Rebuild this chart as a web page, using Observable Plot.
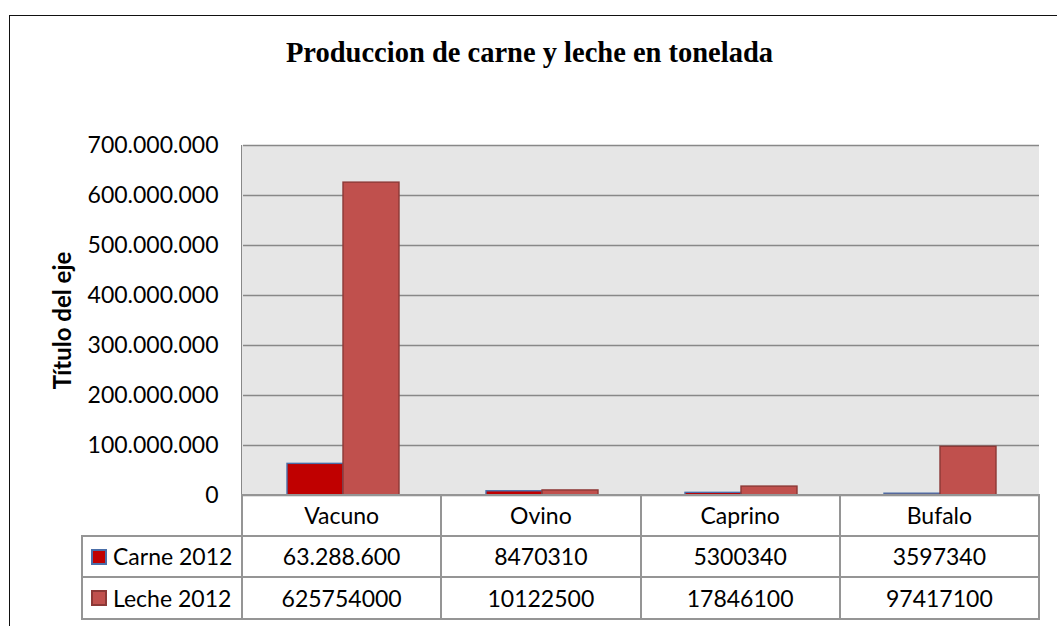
<!DOCTYPE html>
<html>
<head>
<meta charset="utf-8">
<script src="https://cdn.jsdelivr.net/npm/d3@7"></script>
<script src="https://cdn.jsdelivr.net/npm/@observablehq/plot@0.6"></script>
<style>
  body { margin: 0; background: #fff; }
  #wrap { position: relative; width: 1057px; height: 626px; overflow: hidden; font-family: Lato, "Open Sans", sans-serif; color: #000; }
  #bg { position: absolute; background: #e6e6e6; border-left: 1.5px solid #888; box-sizing: border-box; }
  #chart { position: absolute; left: 0; top: 0; }
  #title { position: absolute; left: 0; width: 1059px; top: 39px; text-align: center; font: bold 28.5px/28px "Liberation Serif", "Times New Roman", serif; }
  #border { position: absolute; left: 9px; top: 15px; width: 1200px; height: 800px; border: 1.5px solid #111; box-sizing: border-box; pointer-events: none; }
  .hl, .vl { position: absolute; background: #959595; }
  .cell { position: absolute; display: flex; align-items: center; justify-content: center; font-size: 23px; line-height: 1; }
  .leg { justify-content: flex-start; }
  .sw { display: inline-block; width: 16px; height: 16px; box-sizing: border-box; border: 2px solid; margin-left: 9px; margin-right: 6px; }
</style>
</head>
<body>
<div id="wrap">
  <div id="bg"></div>
  <div id="chart"></div>
  <div id="title"></div>
  <div id="table"></div>
  <div id="border"></div>
</div>
<script>
// ---- data ----
const title = "Produccion de carne y leche en tonelada";
const yTitle = "Título del eje";
const categories = ["Vacuno", "Ovino", "Caprino", "Bufalo"];
const series = ["Carne 2012", "Leche 2012"];
const carne = [63288600, 8470310, 5300340, 3597340];
const leche = [625754000, 10122500, 17846100, 97417100];
const carneLabels = ["63.288.600", "8470310", "5300340", "3597340"];
const lecheLabels = ["625754000", "10122500", "17846100", "97417100"];
const yTicks = [0, 100000000, 200000000, 300000000, 400000000, 500000000, 600000000, 700000000];

const rows = categories.flatMap((c, i) => [
  {category: c, series: series[0], value: carne[i]},
  {category: c, series: series[1], value: leche[i]}
]);
const fmt = d => d3.format(",")(d).replace(/,/g, ".");

const W = 1057, mL = 242, mR = 18, mT = 145, H = 500, mB = 5;

// plot-area background (single piece, so facets show no seams)
Object.assign(document.getElementById("bg").style, {
  left: (mL - 0.75) + "px", top: mT + "px", width: (W - mL - mR + 0.75) + "px", height: (H - mT - mB) + "px"
});

const plot = Plot.plot({
  width: W, height: H,
  marginTop: mT, marginBottom: mB, marginLeft: mL, marginRight: mR,
  style: {background: "transparent", fontFamily: "Lato, sans-serif", fontSize: "23px", color: "#000", overflow: "visible"},
  fx: {domain: categories, padding: 0, axis: null},
  x: {domain: series, paddingInner: 0, paddingOuter: 0.75, axis: null},
  y: {domain: [0, 700000000], ticks: yTicks, tickFormat: fmt, tickSize: 0, tickPadding: 25, label: null},
  marks: [
    Plot.ruleY(yTicks, {stroke: "#888888", strokeWidth: 1.5}),
    Plot.barY(rows.filter(d => d.series === series[0]), {fx: "category", x: "series", y: "value", fill: "#c00000", stroke: "#4a6ea8", strokeWidth: 1.4}),
    Plot.barY(rows.filter(d => d.series === series[1]), {fx: "category", x: "series", y: "value", fill: "#c0504d", stroke: "#8c3836", strokeWidth: 1.4}),
    Plot.text([yTitle], {fx: () => categories[0], frameAnchor: "left", textAnchor: "middle", dx: -180, rotate: -90, fontWeight: "bold", fontSize: 24, fill: "#000"})
  ]
});
document.getElementById("chart").appendChild(plot);
document.getElementById("title").textContent = title;

// ---- data table under the chart (acts as x axis + legend) ----
const table = document.getElementById("table");
const colW = (W - mL - mR) / categories.length;
const colX = d3.range(categories.length + 1).map(i => mL + i * colW);
const legX = 82;
const rowY = [495, 536, 577, 619];
const lw = 2;
function add(cls, style) {
  const el = document.createElement("div");
  el.className = cls;
  Object.assign(el.style, style);
  table.appendChild(el);
  return el;
}
// horizontal lines
add("hl", {left: mL + "px", top: (rowY[0] - lw / 2) + "px", width: (colX[colX.length - 1] - mL) + "px", height: lw + "px"});
for (let r = 1; r < rowY.length; r++) {
  add("hl", {left: legX + "px", top: (rowY[r] - lw / 2) + "px", width: (colX[colX.length - 1] - legX + lw / 2) + "px", height: lw + "px"});
}
// vertical lines
add("vl", {left: (legX - lw / 2) + "px", top: (rowY[1] - lw / 2) + "px", width: lw + "px", height: (rowY[3] - rowY[1] + lw) + "px"});
colX.forEach(x => add("vl", {left: (x - lw / 2) + "px", top: (rowY[0] - lw / 2) + "px", width: lw + "px", height: (rowY[3] - rowY[0] + lw) + "px"}));
// header cells
categories.forEach((c, i) => {
  const el = add("cell", {left: colX[i] + "px", top: rowY[0] + "px", width: colW + "px", height: (rowY[1] - rowY[0]) + "px"});
  el.textContent = c;
});
// series rows
const swatch = [{fill: "#c00000", stroke: "#4a6ea8"}, {fill: "#c0504d", stroke: "#8c3836"}];
[carneLabels, lecheLabels].forEach((labels, r) => {
  const top = rowY[r + 1], h = rowY[r + 2] - rowY[r + 1];
  const leg = add("cell leg", {left: legX + "px", top: top + "px", width: (mL - legX) + "px", height: h + "px"});
  const sw = document.createElement("span");
  sw.className = "sw";
  sw.style.background = swatch[r].fill;
  sw.style.borderColor = swatch[r].stroke;
  leg.appendChild(sw);
  leg.appendChild(document.createTextNode(series[r]));
  labels.forEach((t, i) => {
    const el = add("cell", {left: colX[i] + "px", top: top + "px", width: colW + "px", height: h + "px"});
    el.textContent = t;
  });
});
</script>
</body>
</html>
